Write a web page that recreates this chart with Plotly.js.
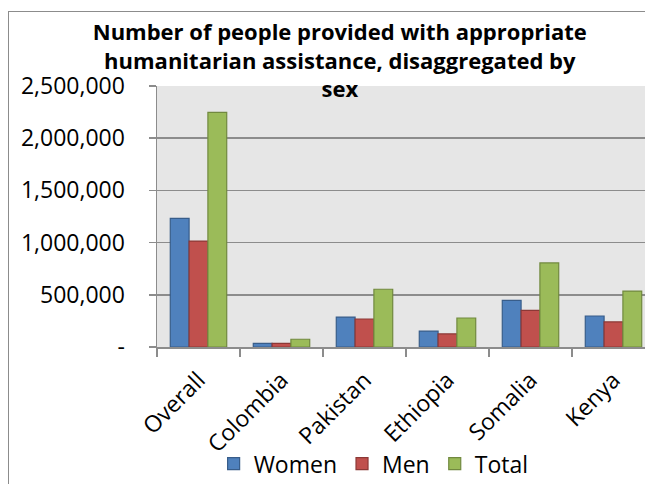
<!DOCTYPE html>
<html>
<head>
<meta charset="utf-8">
<script src="https://cdn.plot.ly/plotly-3.0.1.min.js"></script>
<style>
html,body{margin:0;padding:0;overflow:hidden;background:#fff;width:645px;height:484px;}
#wrap{position:absolute;left:0;top:0;width:665px;height:484px;}
#frame{position:absolute;left:8px;top:11px;width:700px;height:600px;border:1.5px solid #8c8c8c;pointer-events:none;}
</style>
</head>
<body>
<div id="wrap"><div id="chart" style="width:665px;height:484px;"></div></div>
<div id="frame"></div>
<script>
var categories = ["Overall", "Colombia", "Pakistan", "Ethiopia", "Somalia", "Kenya"];
var women = [1232000, 35000, 287000, 153000, 447000, 297000];
var men   = [1015000, 35000, 268000, 125000, 351000, 240000];
var total = [2248000, 74000, 553000, 278000, 805000, 536000];
var yTickVals = [0, 500000, 1000000, 1500000, 2000000, 2500000];
var yTickText = ["-", "500,000", "1,000,000", "1,500,000", "2,000,000", "2,500,000"];

var FONT = "Open Sans, sans-serif";
function mk(name, vals, fill, line) {
  return {type: "bar", name: name, x: categories, y: vals,
    marker: {color: fill, line: {color: line, width: 1.2}}, hoverinfo: "none"};
}
var data = [
  mk("Women", women, "#4F81BD", "#385D8A"),
  mk("Men", men, "#C0504D", "#8C3836"),
  mk("Total", total, "#9BBB59", "#71893F")
];
var layout = {
  width: 665, height: 484,
  margin: {l: 157, r: 10, t: 86, b: 137, autoexpand: false},
  paper_bgcolor: "#ffffff",
  plot_bgcolor: "#E6E6E6",
  font: {family: FONT, color: "#000000", size: 23},
  title: {
    text: "<b>Number of people provided with appropriate<br>humanitarian assistance, disaggregated by<br>sex</b>",
    font: {family: FONT, size: 22, color: "#000"},
    xref: "container", x: 0.511, xanchor: "center",
    yref: "container", y: 0.917, yanchor: "middle"
  },
  barmode: "group",
  bargap: 0.32,
  bargroupgap: 0,
  xaxis: {
    type: "category",
    automargin: false,
    tickangle: -45,
    tickson: "boundaries",
    ticks: "outside", ticklen: 8, tickcolor: "#8c8c8c", tickwidth: 1.5,
    showline: true, linecolor: "#8c8c8c", linewidth: 1.5,
    showgrid: false,
    tickfont: {family: FONT, size: 23, color: "#000"},
    ticklabelstandoff: 9
  },
  yaxis: {
    automargin: false,
    range: [0, 2500000],
    tickmode: "array", tickvals: yTickVals, ticktext: yTickText,
    ticks: "outside", ticklen: 7, tickcolor: "#8c8c8c", tickwidth: 1.5,
    showline: true, linecolor: "#8c8c8c", linewidth: 1.5,
    showgrid: true, gridcolor: "#8c8c8c", gridwidth: 1.5,
    zeroline: false,
    tickfont: {family: FONT, size: 23, color: "#000"},
    ticklabelstandoff: 19
  },
  showlegend: true,
  legend: {
    orientation: "h", xref: "paper", x: 0.435, xanchor: "center",
    yref: "paper", y: -0.447, yanchor: "middle",
    font: {family: FONT, size: 23, color: "#000"},
    itemwidth: 30, tracegroupgap: 0, bgcolor: "rgba(0,0,0,0)"
  }
};
Plotly.newPlot("chart", data, layout, {staticPlot: true, displayModeBar: false});
</script>
</body>
</html>
